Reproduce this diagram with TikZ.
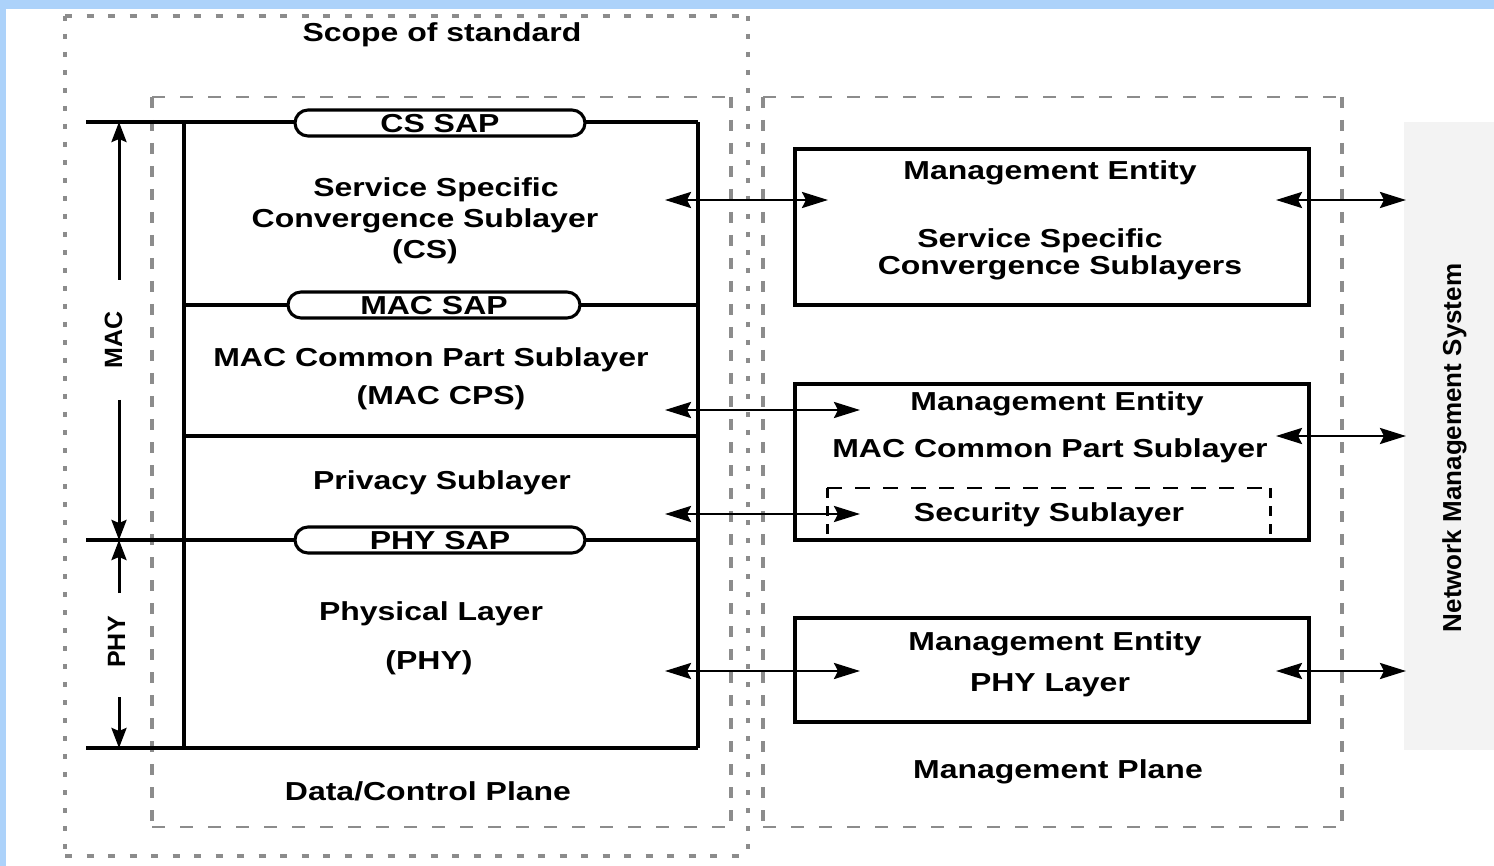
\documentclass[tikz,border=0pt]{standalone}
\usepackage{fontspec}
\setmainfont{Liberation Sans}[FakeStretch=1.23]
\newfontfamily\vfont{Liberation Sans}
\usetikzlibrary{arrows.meta}
\definecolor{skyband}{RGB}{172,210,250}
\definecolor{dashgray}{RGB}{140,140,140}
\definecolor{nmsgray}{RGB}{243,243,243}
\begin{document}
\begin{tikzpicture}[x=1pt,y=-1pt,
  txt/.style={inner sep=0pt, text height=18.6pt, text depth=0pt, font=\fontsize{26}{30}\selectfont\bfseries},
  vtxt/.style={inner sep=0pt, rotate=90, text height=18pt, text depth=0pt, font=\vfont\fontsize{25}{30}\selectfont\bfseries},
  blk/.style={line width=3.1pt, black},
  pillbox/.style={draw, line width=3.1pt, fill=white, rounded corners=13pt, minimum width=290pt, minimum height=26pt, inner sep=0pt, text height=18.6pt, text depth=0pt, font=\fontsize{26}{30}\selectfont\bfseries},
  mebox/.style={draw, line width=3.1pt, inner sep=0pt, fill=white},
  dotH/.style={dashgray, line width=3.8pt, dash pattern=on 7pt off 14.5pt},
  dotV/.style={dashgray, line width=4.8pt, dash pattern=on 5pt off 13pt},
  dashH/.style={dashgray, line width=2.8pt, dash pattern=on 13pt off 15pt},
  dashV/.style={dashgray, line width=3.2pt, dash pattern=on 11pt off 12pt},
  secH/.style={black, line width=2.6pt, dash pattern=on 15pt off 13pt},
  secV/.style={black, line width=3pt, dash pattern=on 10pt off 8pt},
  harrow/.style={line width=2.8pt, {Stealth[length=26pt,width=16pt,inset=4pt]}-{Stealth[length=26pt,width=16pt,inset=4pt]}},
  vtip/.style={line width=3pt, -{Stealth[length=20pt,width=15pt,inset=3pt]}}
]
\useasboundingbox (0,0) rectangle (1494,866);
% background
\fill[white] (0,0) rectangle (1494,866);
\fill[skyband] (0,0) rectangle (1494,9);
\fill[skyband] (0,0) rectangle (6,866);
% NMS panel
\fill[nmsgray] (1404,122) rectangle (1494,750);
\node[vtxt, font=\vfont\fontsize{26}{30}\selectfont\bfseries] (nms) at (1452,448) {Network Management System};

% scope of standard (dotted)
\draw[dotH] (65,16) -- (748,16);
\draw[dotH] (65,856) -- (748,856);
\draw[dotV] (65,16) -- (65,856);
\draw[dotV] (748,16) -- (748,856);
\node[txt] (scope) at (442,32) {Scope of standard};

% data/control plane (dashed)
\draw[dashH] (152,97) -- (731,97);
\draw[dashH] (152,827) -- (731,827);
\draw[dashV] (152,97) -- (152,827);
\draw[dashV] (731,97) -- (731,827);
\node[txt] (dcp) at (428,791) {Data/Control Plane};

% management plane (dashed)
\draw[dashH] (763,97) -- (1342,97);
\draw[dashH] (763,827) -- (1342,827);
\draw[dashV] (763,97) -- (763,827);
\draw[dashV] (1342,97) -- (1342,827);
\node[txt] (mp) at (1058,769) {Management Plane};

% left layer stack
\draw[blk] (184,122) -- (184,748);
\draw[blk] (698,122) -- (698,748);
\draw[blk] (86,122) -- (698,122);
\draw[blk] (184,305) -- (698,305);
\draw[blk] (184,436) -- (698,436);
\draw[blk] (86,540) -- (698,540);
\draw[blk] (86,748) -- (698,748);

\node[pillbox] (cssap) at (440,123) {CS SAP};
\node[pillbox, minimum width=292pt] (macsap) at (434,305) {MAC SAP};
\node[pillbox] (physap) at (440,540) {PHY SAP};

\node[txt] (cs1) at (436,187) {Service Specific};
\node[txt] (cs2) at (425,218) {Convergence Sublayer};
\node[txt] (cs3) at (425,249) {(CS)};
\node[txt] (cps1) at (431,357) {MAC Common Part Sublayer};
\node[txt] (cps2) at (441,395) {(MAC CPS)};
\node[txt] (priv) at (442,480) {Privacy Sublayer};
\node[txt] (phy1) at (431,611) {Physical Layer};
\node[txt] (phy2) at (429,660) {(PHY)};

% MAC / PHY extent arrows
\node[vtxt] (maclbl) at (113,340) {MAC};
\node[vtxt] (phylbl) at (116,642) {PHY};
\coordinate (macTop) at (119,122);
\coordinate (macA) at (119,280);
\coordinate (macB) at (119,400);
\coordinate (macBot) at (119,540);
\coordinate (phyTop) at (119,540);
\coordinate (phyA) at (119,593);
\coordinate (phyB) at (119,697);
\coordinate (phyBot) at (119,748);
\draw[vtip] (macA) -- (macTop);
\draw[vtip] (macB) -- (macBot);
\draw[vtip] (phyA) -- (phyTop);
\draw[vtip] (phyB) -- (phyBot);

% management entity boxes
\node[mebox, minimum width=514pt, minimum height=156pt] (me1) at (1052,227) {};
\node[mebox, minimum width=514pt, minimum height=156pt] (me2) at (1052,462) {};
\node[mebox, minimum width=514pt, minimum height=104pt] (me3) at (1052,670) {};

\node[txt] (me1a) at (1050,170) {Management Entity};
\node[txt] (me1b) at (1040,238) {Service Specific};
\node[txt] (me1c) at (1060,265) {Convergence Sublayers};
\node[txt] (me2a) at (1057,401) {Management Entity};
\node[txt] (me2b) at (1050,448) {MAC Common Part Sublayer};
\node[txt] (me2c) at (1049,512) {Security Sublayer};
\node[txt] (me3a) at (1055,641) {Management Entity};
\node[txt] (me3b) at (1050,682) {PHY Layer};

% security sublayer dashed box (open at bottom)
\draw[secH] (827,488) -- (1270,488);
\draw[secV] (827,488) -- (827,540);
\draw[secV] (1270,488) -- (1270,540);

% horizontal double arrows
\coordinate (csL) at (665,200);   \coordinate (csR) at (828,200);
\coordinate (cpsL) at (665,410);  \coordinate (cpsR) at (860,410);
\coordinate (secL) at (665,514);  \coordinate (secR) at (860,514);
\coordinate (phL) at (665,671);   \coordinate (phR) at (860,671);
\coordinate (n1L) at (1276,200);  \coordinate (n1R) at (1406,200);
\coordinate (n2L) at (1276,436);  \coordinate (n2R) at (1406,436);
\coordinate (n3L) at (1276,671);  \coordinate (n3R) at (1406,671);
\draw[harrow] (csL) -- (csR);
\draw[harrow] (cpsL) -- (cpsR);
\draw[harrow] (secL) -- (secR);
\draw[harrow] (phL) -- (phR);
\draw[harrow] (n1L) -- (n1R);
\draw[harrow] (n2L) -- (n2R);
\draw[harrow] (n3L) -- (n3R);
\end{tikzpicture}
\end{document}
